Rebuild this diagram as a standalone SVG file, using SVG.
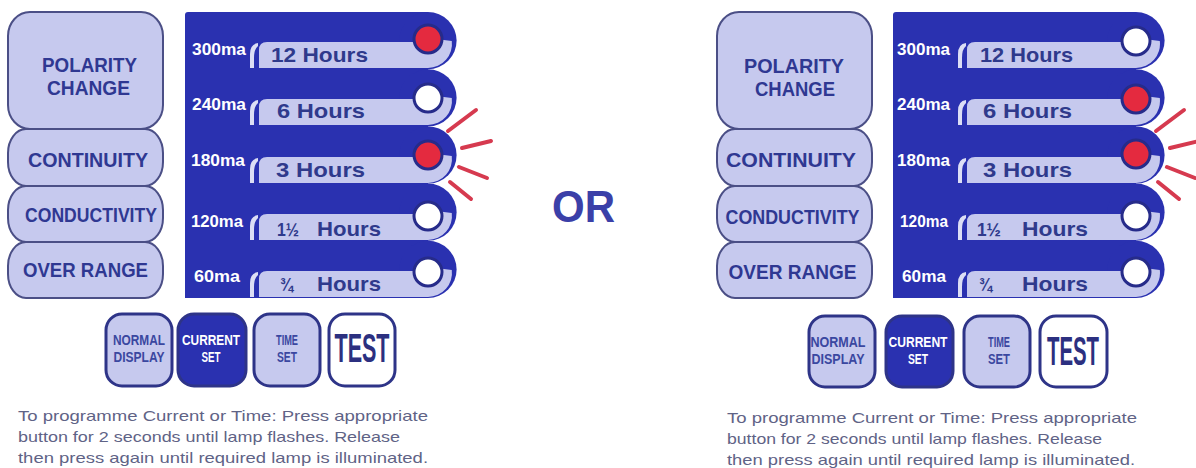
<svg xmlns="http://www.w3.org/2000/svg" xmlns:xlink="http://www.w3.org/1999/xlink" width="1196" height="468" viewBox="0 0 1196 468">
  <defs>
    <style>
      text { font-family: "Liberation Sans", Arial, sans-serif; }
      .panel { fill: #2a31b0; }
      .tab { fill: #c6c9ee; }
      .fillet { fill: #dcdef5; }
      .on { fill: #e42a3f; stroke: #262b8a; stroke-width: 3; }
      .off { fill: #ffffff; stroke: #262b8a; stroke-width: 3; }
      .ma { font-weight: bold; font-size: 17px; fill: #ffffff; }
      .hrs { font-weight: bold; font-size: 21px; fill: #2f3a8c; }
      .frac { font-weight: bold; font-size: 19px; fill: #2f3a8c; }
      .mode { fill: #c6c9ee; stroke: #4b4f86; stroke-width: 2; }
      .modetxt { font-weight: bold; font-size: 21px; fill: #2f3892; text-anchor: middle; }
      .key { stroke: #2e3488; stroke-width: 3; }
      .key-light { fill: #c6c9ee; }
      .key-dark { fill: #2a31b0; }
      .key-white { fill: #ffffff; }
      .keytxt { font-weight: bold; font-size: 14.5px; text-anchor: middle; fill: #3a47a0; }
      .keytxt-w { font-weight: bold; font-size: 14.5px; text-anchor: middle; fill: #ffffff; }
      .testtxt { font-weight: bold; font-size: 40px; text-anchor: middle; fill: #2c3080; }
      .ray { stroke: #d63a4f; stroke-width: 4; stroke-linecap: round; fill: none; }
      .note { font-size: 15px; fill: #5f6386; }
      .or { font-weight: bold; font-size: 44px; fill: #3b40a8; }
    </style>
    <!-- mode buttons of the left column -->
    <g id="mode-column">
      <rect class="mode" x="8" y="12" width="155" height="117" rx="22" ry="24"/>
      <rect class="mode" x="8" y="129" width="155" height="57" rx="18" ry="24"/>
      <rect class="mode" x="8" y="186" width="155" height="56" rx="18" ry="24"/>
      <rect class="mode" x="8" y="242" width="155" height="56" rx="18" ry="24"/>
    </g>
    <!-- blue selector body with scalloped right edge -->
    <g id="selector-body">
      <path class="panel" d="M185,15 Q185,12 188,12 H428 V298 H185 Z"/>
      <circle class="panel" cx="428" cy="40.6" r="28.6"/>
      <circle class="panel" cx="428" cy="97.8" r="28.6"/>
      <circle class="panel" cx="428" cy="155" r="28.6"/>
      <circle class="panel" cx="428" cy="212.2" r="28.6"/>
      <circle class="panel" cx="428" cy="269.4" r="28.6"/>
    </g>
    <!-- light label strip of one row, top edge at y=0 -->
    <g id="strip">
      <path class="fillet" d="M250,26 V12 Q250,2 258,1 L258,4 Q254,7 254,16 V26 Z"/>
      <path class="tab" d="M259,26 V8 Q259,0 267,0 H428 V-4 L451.8,-1 A24 24 0 0 1 428,26 Z"/>
    </g>
  </defs>

  <!-- ===== left panel ===== -->
  <g id="left-modes">
    <use xlink:href="#mode-column"/>
    <text class="modetxt" x="89.5" y="72" textLength="95" lengthAdjust="spacingAndGlyphs">POLARITY</text>
    <text class="modetxt" x="88.5" y="95" textLength="83" lengthAdjust="spacingAndGlyphs">CHANGE</text>
    <text class="modetxt" x="88" y="167" textLength="120" lengthAdjust="spacingAndGlyphs">CONTINUITY</text>
    <text class="modetxt" x="91" y="222" textLength="132" lengthAdjust="spacingAndGlyphs">CONDUCTIVITY</text>
    <text class="modetxt" x="85.5" y="277" textLength="125" lengthAdjust="spacingAndGlyphs">OVER RANGE</text>
  </g>

  <g id="left-selector">
    <use xlink:href="#selector-body"/>
  </g>

  <g id="left-row-300">
    <use xlink:href="#strip" transform="translate(0,42)"/>
    <circle class="on" cx="428" cy="39" r="14"/>
    <text class="ma" x="192" y="55" textLength="54" lengthAdjust="spacingAndGlyphs">300ma</text>
    <text class="hrs" x="271" y="62" textLength="97" lengthAdjust="spacingAndGlyphs">12 Hours</text>
  </g>
  <g id="left-row-240">
    <use xlink:href="#strip" transform="translate(0,99)"/>
    <circle class="off" cx="428" cy="98" r="14"/>
    <text class="ma" x="192" y="110" textLength="54" lengthAdjust="spacingAndGlyphs">240ma</text>
    <text class="hrs" x="277" y="118" textLength="88" lengthAdjust="spacingAndGlyphs">6 Hours</text>
  </g>
  <g id="left-row-180">
    <use xlink:href="#strip" transform="translate(0,157)"/>
    <circle class="on" cx="428" cy="155" r="14"/>
    <text class="ma" x="191" y="166" textLength="54" lengthAdjust="spacingAndGlyphs">180ma</text>
    <text class="hrs" x="276" y="177" textLength="89" lengthAdjust="spacingAndGlyphs">3 Hours</text>
  </g>
  <g id="left-row-120">
    <use xlink:href="#strip" transform="translate(0,214)"/>
    <circle class="off" cx="428" cy="216" r="14"/>
    <text class="ma" x="191" y="227" textLength="52" lengthAdjust="spacingAndGlyphs">120ma</text>
    <text class="frac" x="277" y="236" textLength="22" lengthAdjust="spacingAndGlyphs">1½</text>
    <text class="hrs" x="317" y="236" textLength="64" lengthAdjust="spacingAndGlyphs">Hours</text>
  </g>
  <g id="left-row-60">
    <use xlink:href="#strip" transform="translate(0,271)"/>
    <circle class="off" cx="428" cy="272" r="14"/>
    <text class="ma" x="194" y="282" textLength="46" lengthAdjust="spacingAndGlyphs">60ma</text>
    <text class="frac" x="280" y="291" textLength="13" lengthAdjust="spacingAndGlyphs">¾</text>
    <text class="hrs" x="317" y="291" textLength="64" lengthAdjust="spacingAndGlyphs">Hours</text>
  </g>

  <g id="left-flash">
    <line class="ray" x1="448" y1="131" x2="476" y2="110"/>
    <line class="ray" x1="462" y1="148" x2="491" y2="141"/>
    <line class="ray" x1="459" y1="167" x2="487" y2="178"/>
    <line class="ray" x1="450" y1="182" x2="471" y2="199"/>
  </g>

  <g id="left-key-normal">
    <rect class="key key-light" x="106" y="314" width="66" height="72" rx="16"/>
    <text class="keytxt" x="139" y="345" textLength="52" lengthAdjust="spacingAndGlyphs">NORMAL</text>
    <text class="keytxt" x="139" y="362" textLength="51" lengthAdjust="spacingAndGlyphs">DISPLAY</text>
  </g>
  <g id="left-key-current">
    <rect class="key key-dark" x="178" y="314" width="68" height="72" rx="16"/>
    <text class="keytxt-w" x="211" y="345" textLength="58" lengthAdjust="spacingAndGlyphs">CURRENT</text>
    <text class="keytxt-w" x="211" y="362" textLength="19" lengthAdjust="spacingAndGlyphs">SET</text>
  </g>
  <g id="left-key-time">
    <rect class="key key-light" x="254" y="314" width="66" height="72" rx="16"/>
    <text class="keytxt" x="287" y="345" textLength="22" lengthAdjust="spacingAndGlyphs">TIME</text>
    <text class="keytxt" x="287" y="362" textLength="20" lengthAdjust="spacingAndGlyphs">SET</text>
  </g>
  <g id="left-key-test">
    <rect class="key key-white" x="329" y="314" width="66" height="72" rx="16"/>
    <text class="testtxt" x="362" y="362" textLength="55" lengthAdjust="spacingAndGlyphs">TEST</text>
  </g>

  <g id="left-note">
    <text class="note" x="18" y="421" textLength="410" lengthAdjust="spacingAndGlyphs">To programme Current or Time: Press appropriate</text>
    <text class="note" x="18" y="442" textLength="382" lengthAdjust="spacingAndGlyphs">button for 2 seconds until lamp flashes. Release</text>
    <text class="note" x="18" y="463" textLength="410" lengthAdjust="spacingAndGlyphs">then press again until required lamp is illuminated.</text>
  </g>

  <g id="or-label">
    <text class="or" x="552" y="222" textLength="63" lengthAdjust="spacingAndGlyphs">OR</text>
  </g>

  <!-- ===== right panel ===== -->
  <g id="right-modes">
    <use xlink:href="#mode-column" transform="translate(709,0)"/>
    <text class="modetxt" x="794" y="73" textLength="100" lengthAdjust="spacingAndGlyphs">POLARITY</text>
    <text class="modetxt" x="795" y="96" textLength="80" lengthAdjust="spacingAndGlyphs">CHANGE</text>
    <text class="modetxt" x="791" y="167" textLength="130" lengthAdjust="spacingAndGlyphs">CONTINUITY</text>
    <text class="modetxt" x="792.5" y="224" textLength="134" lengthAdjust="spacingAndGlyphs">CONDUCTIVITY</text>
    <text class="modetxt" x="792.5" y="279" textLength="128" lengthAdjust="spacingAndGlyphs">OVER RANGE</text>
  </g>

  <g id="right-selector" transform="translate(708,0)">
    <use xlink:href="#selector-body"/>
  </g>

  <g id="right-row-300" transform="translate(708,0)">
    <use xlink:href="#strip" transform="translate(0,42)"/>
    <circle class="off" cx="428" cy="41" r="14"/>
    <text class="ma" x="189" y="55" textLength="53" lengthAdjust="spacingAndGlyphs">300ma</text>
    <text class="hrs" x="272" y="62" textLength="93" lengthAdjust="spacingAndGlyphs">12 Hours</text>
  </g>
  <g id="right-row-240" transform="translate(708,0)">
    <use xlink:href="#strip" transform="translate(0,99)"/>
    <circle class="on" cx="428" cy="99" r="14"/>
    <text class="ma" x="189" y="110" textLength="53" lengthAdjust="spacingAndGlyphs">240ma</text>
    <text class="hrs" x="275" y="118" textLength="89" lengthAdjust="spacingAndGlyphs">6 Hours</text>
  </g>
  <g id="right-row-180" transform="translate(708,0)">
    <use xlink:href="#strip" transform="translate(0,157)"/>
    <circle class="on" cx="428" cy="154" r="14"/>
    <text class="ma" x="189" y="166" textLength="53" lengthAdjust="spacingAndGlyphs">180ma</text>
    <text class="hrs" x="275" y="177" textLength="89" lengthAdjust="spacingAndGlyphs">3 Hours</text>
  </g>
  <g id="right-row-120" transform="translate(708,0)">
    <use xlink:href="#strip" transform="translate(0,214)"/>
    <circle class="off" cx="428" cy="216" r="14"/>
    <text class="ma" x="192" y="227" textLength="48" lengthAdjust="spacingAndGlyphs">120ma</text>
    <text class="frac" x="269" y="236" textLength="24" lengthAdjust="spacingAndGlyphs">1½</text>
    <text class="hrs" x="314" y="236" textLength="66" lengthAdjust="spacingAndGlyphs">Hours</text>
  </g>
  <g id="right-row-60" transform="translate(708,0)">
    <use xlink:href="#strip" transform="translate(0,271)"/>
    <circle class="off" cx="428" cy="272" r="14"/>
    <text class="ma" x="194" y="282" textLength="44" lengthAdjust="spacingAndGlyphs">60ma</text>
    <text class="frac" x="271" y="291" textLength="13" lengthAdjust="spacingAndGlyphs">¾</text>
    <text class="hrs" x="314" y="291" textLength="66" lengthAdjust="spacingAndGlyphs">Hours</text>
  </g>

  <g id="right-flash" transform="translate(708,0)">
    <line class="ray" x1="448" y1="131" x2="476" y2="110"/>
    <line class="ray" x1="462" y1="148" x2="491" y2="141"/>
    <line class="ray" x1="459" y1="167" x2="487" y2="178"/>
    <line class="ray" x1="450" y1="182" x2="471" y2="199"/>
  </g>

  <g id="right-key-normal">
    <rect class="key key-light" x="809" y="316" width="66" height="71" rx="16"/>
    <text class="keytxt" x="838" y="347" textLength="55" lengthAdjust="spacingAndGlyphs">NORMAL</text>
    <text class="keytxt" x="838" y="364" textLength="53" lengthAdjust="spacingAndGlyphs">DISPLAY</text>
  </g>
  <g id="right-key-current">
    <rect class="key key-dark" x="886" y="316" width="67" height="71" rx="16"/>
    <text class="keytxt-w" x="918" y="347" textLength="59" lengthAdjust="spacingAndGlyphs">CURRENT</text>
    <text class="keytxt-w" x="918" y="364" textLength="20" lengthAdjust="spacingAndGlyphs">SET</text>
  </g>
  <g id="right-key-time">
    <rect class="key key-light" x="964" y="316" width="66" height="71" rx="16"/>
    <text class="keytxt" x="999" y="347" textLength="22" lengthAdjust="spacingAndGlyphs">TIME</text>
    <text class="keytxt" x="999" y="364" textLength="22" lengthAdjust="spacingAndGlyphs">SET</text>
  </g>
  <g id="right-key-test">
    <rect class="key key-white" x="1040" y="316" width="67" height="71" rx="16"/>
    <text class="testtxt" x="1073" y="365" textLength="52" lengthAdjust="spacingAndGlyphs">TEST</text>
  </g>

  <g id="right-note">
    <text class="note" x="727" y="423" textLength="410" lengthAdjust="spacingAndGlyphs">To programme Current or Time: Press appropriate</text>
    <text class="note" x="727" y="444" textLength="375" lengthAdjust="spacingAndGlyphs">button for 2 seconds until lamp flashes. Release</text>
    <text class="note" x="727" y="465" textLength="408" lengthAdjust="spacingAndGlyphs">then press again until required lamp is illuminated.</text>
  </g>
</svg>
